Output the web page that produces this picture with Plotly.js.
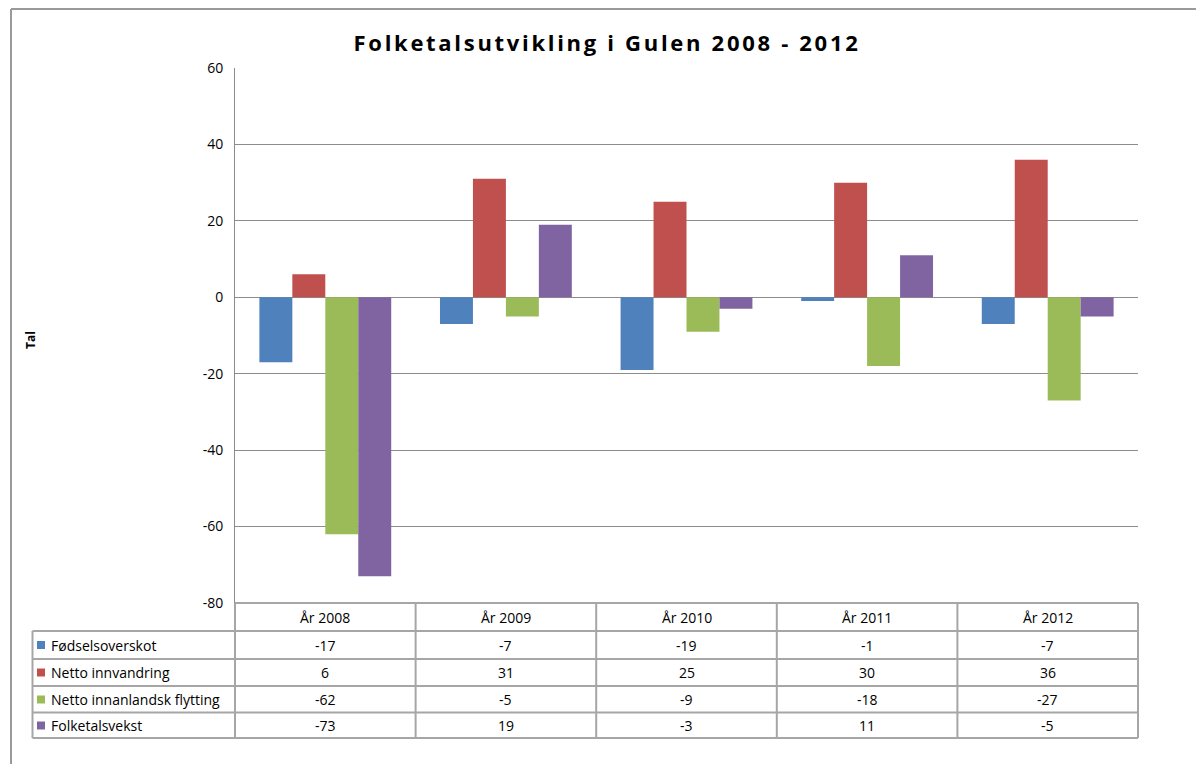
<!DOCTYPE html>
<html>
<head>
<meta charset="utf-8">
<script src="https://cdn.plot.ly/plotly-3.0.1.min.js"></script>
<style>html,body{margin:0;padding:0;background:#fff;}#chart{width:1196px;height:764px;}
.gtitle{letter-spacing:2.7px;}</style>
</head>
<body>
<div id="chart"></div>
<script>
const categories = ["År 2008", "År 2009", "År 2010", "År 2011", "År 2012"];
const seriesNames = ["Fødselsoverskot", "Netto innvandring", "Netto innanlandsk flytting", "Folketalsvekst"];
const fodselsoverskot = [-17, -7, -19, -1, -7];
const nettoInnvandring = [6, 31, 25, 30, 36];
const nettoInnanlandsk = [-62, -5, -9, -18, -27];
const folketalsvekst = [-73, 19, -3, 11, -5];
const seriesValues = [fodselsoverskot, nettoInnvandring, nettoInnanlandsk, folketalsvekst];
const yTickValues = [-80, -60, -40, -20, 0, 20, 40, 60];
const yTickLabels = ["-80", "-60", "-40", "-20", "0", "20", "40", "60"];
const colors = ["#4F81BD", "#C0504D", "#9BBB59", "#8064A2"];

const W = 1196, H = 764;
const L = 235, R = 1138, T = 68, B = 603;
const pw = R - L, ph = B - T;
const px = X => (X - L) / pw;
const py = Y => (B - Y) / ph;

const font = "Open Sans, Noto Sans, sans-serif";
const gridCol = "#8c8c8c";
const tabCol = "#a6a6a6";

const traces = seriesNames.map((n, i) => ({
  type: "bar", name: n, x: categories, y: seriesValues[i],
  marker: {color: colors[i], line: {width: 0}}
}));

const shapes = [];
const annotations = [];

// outer frame
shapes.push({type: "line", xref: "paper", yref: "paper", x0: px(11), x1: px(1200), y0: py(9), y1: py(9), line: {color: "#9a9a9a", width: 2}});
shapes.push({type: "line", xref: "paper", yref: "paper", x0: px(11), x1: px(11), y0: py(9), y1: py(770), line: {color: "#9a9a9a", width: 2}});

// table lines
const rowY = [603, 631, 659, 686, 712.5, 738];
const colX = [235, 415.6, 596.2, 776.8, 957.4, 1138];
shapes.push({type: "line", xref: "paper", yref: "paper", x0: px(235), x1: px(1138), y0: py(603), y1: py(603), line: {color: tabCol, width: 2}});
for (let r = 1; r < rowY.length; r++) {
  shapes.push({type: "line", xref: "paper", yref: "paper", x0: px(32.5), x1: px(1138), y0: py(rowY[r]), y1: py(rowY[r]), line: {color: tabCol, width: 2}});
}
colX.forEach(cx => {
  shapes.push({type: "line", xref: "paper", yref: "paper", x0: px(cx), x1: px(cx), y0: py(603), y1: py(738), line: {color: tabCol, width: 2}});
});
shapes.push({type: "line", xref: "paper", yref: "paper", x0: px(32.5), x1: px(32.5), y0: py(631), y1: py(738), line: {color: tabCol, width: 2}});

const tfont = {family: font, size: 14, color: "#000"};
// header
categories.forEach(c => {
  annotations.push({xref: "x", yref: "paper", x: c, y: py(617), text: c, showarrow: false,
    font: tfont, xanchor: "center", yanchor: "middle"});
});
// rows
const rowCenters = [645, 672.5, 699.5, 725.5];
seriesNames.forEach((n, i) => {
  shapes.push({type: "rect", xref: "paper", yref: "paper", x0: px(37), x1: px(45), y0: py(rowCenters[i] - 4), y1: py(rowCenters[i] + 4),
    fillcolor: colors[i], line: {width: 0}});
  annotations.push({xref: "paper", yref: "paper", x: px(49), y: py(rowCenters[i]), text: n, showarrow: false,
    font: tfont, xanchor: "left", yanchor: "middle"});
  categories.forEach((c, j) => {
    annotations.push({xref: "x", yref: "paper", x: c, y: py(rowCenters[i]), text: String(seriesValues[i][j]), showarrow: false,
      font: tfont, xanchor: "center", yanchor: "middle"});
  });
});

// y title
annotations.push({xref: "paper", yref: "paper", x: px(30), y: py(340), text: "<b>Tal</b>", textangle: -90,
  showarrow: false, font: {family: font, size: 12, color: "#000"}, xanchor: "center", yanchor: "middle"});

const layout = {
  width: W, height: H,
  margin: {l: L, r: W - R, t: T, b: H - B},
  paper_bgcolor: "#fff", plot_bgcolor: "#fff",
  title: {text: "<b>Folketalsutvikling i Gulen 2008 - 2012</b>", xref: "container", yref: "container",
    x: 607 / W, xanchor: "center", y: 1 - 43 / H, yanchor: "middle",
    font: {family: font, size: 22, color: "#000"}},
  showlegend: false,
  barmode: "group", bargap: 0.27, bargroupgap: 0,
  xaxis: {showticklabels: false, showgrid: false, zeroline: false, showline: false, ticks: ""},
  yaxis: {range: [-80, 60], tickmode: "array", tickvals: yTickValues, ticktext: yTickLabels,
    showgrid: true, gridcolor: gridCol, gridwidth: 1,
    zeroline: true, zerolinecolor: gridCol, zerolinewidth: 1,
    showline: true, linecolor: gridCol, linewidth: 1, ticks: "",
    tickfont: {family: font, size: 14, color: "#000"}, ticklabelstandoff: 8},
  shapes: shapes, annotations: annotations,
  font: {family: font}
};
Plotly.newPlot("chart", traces, layout, {staticPlot: true, displayModeBar: false});
</script>
</body>
</html>
